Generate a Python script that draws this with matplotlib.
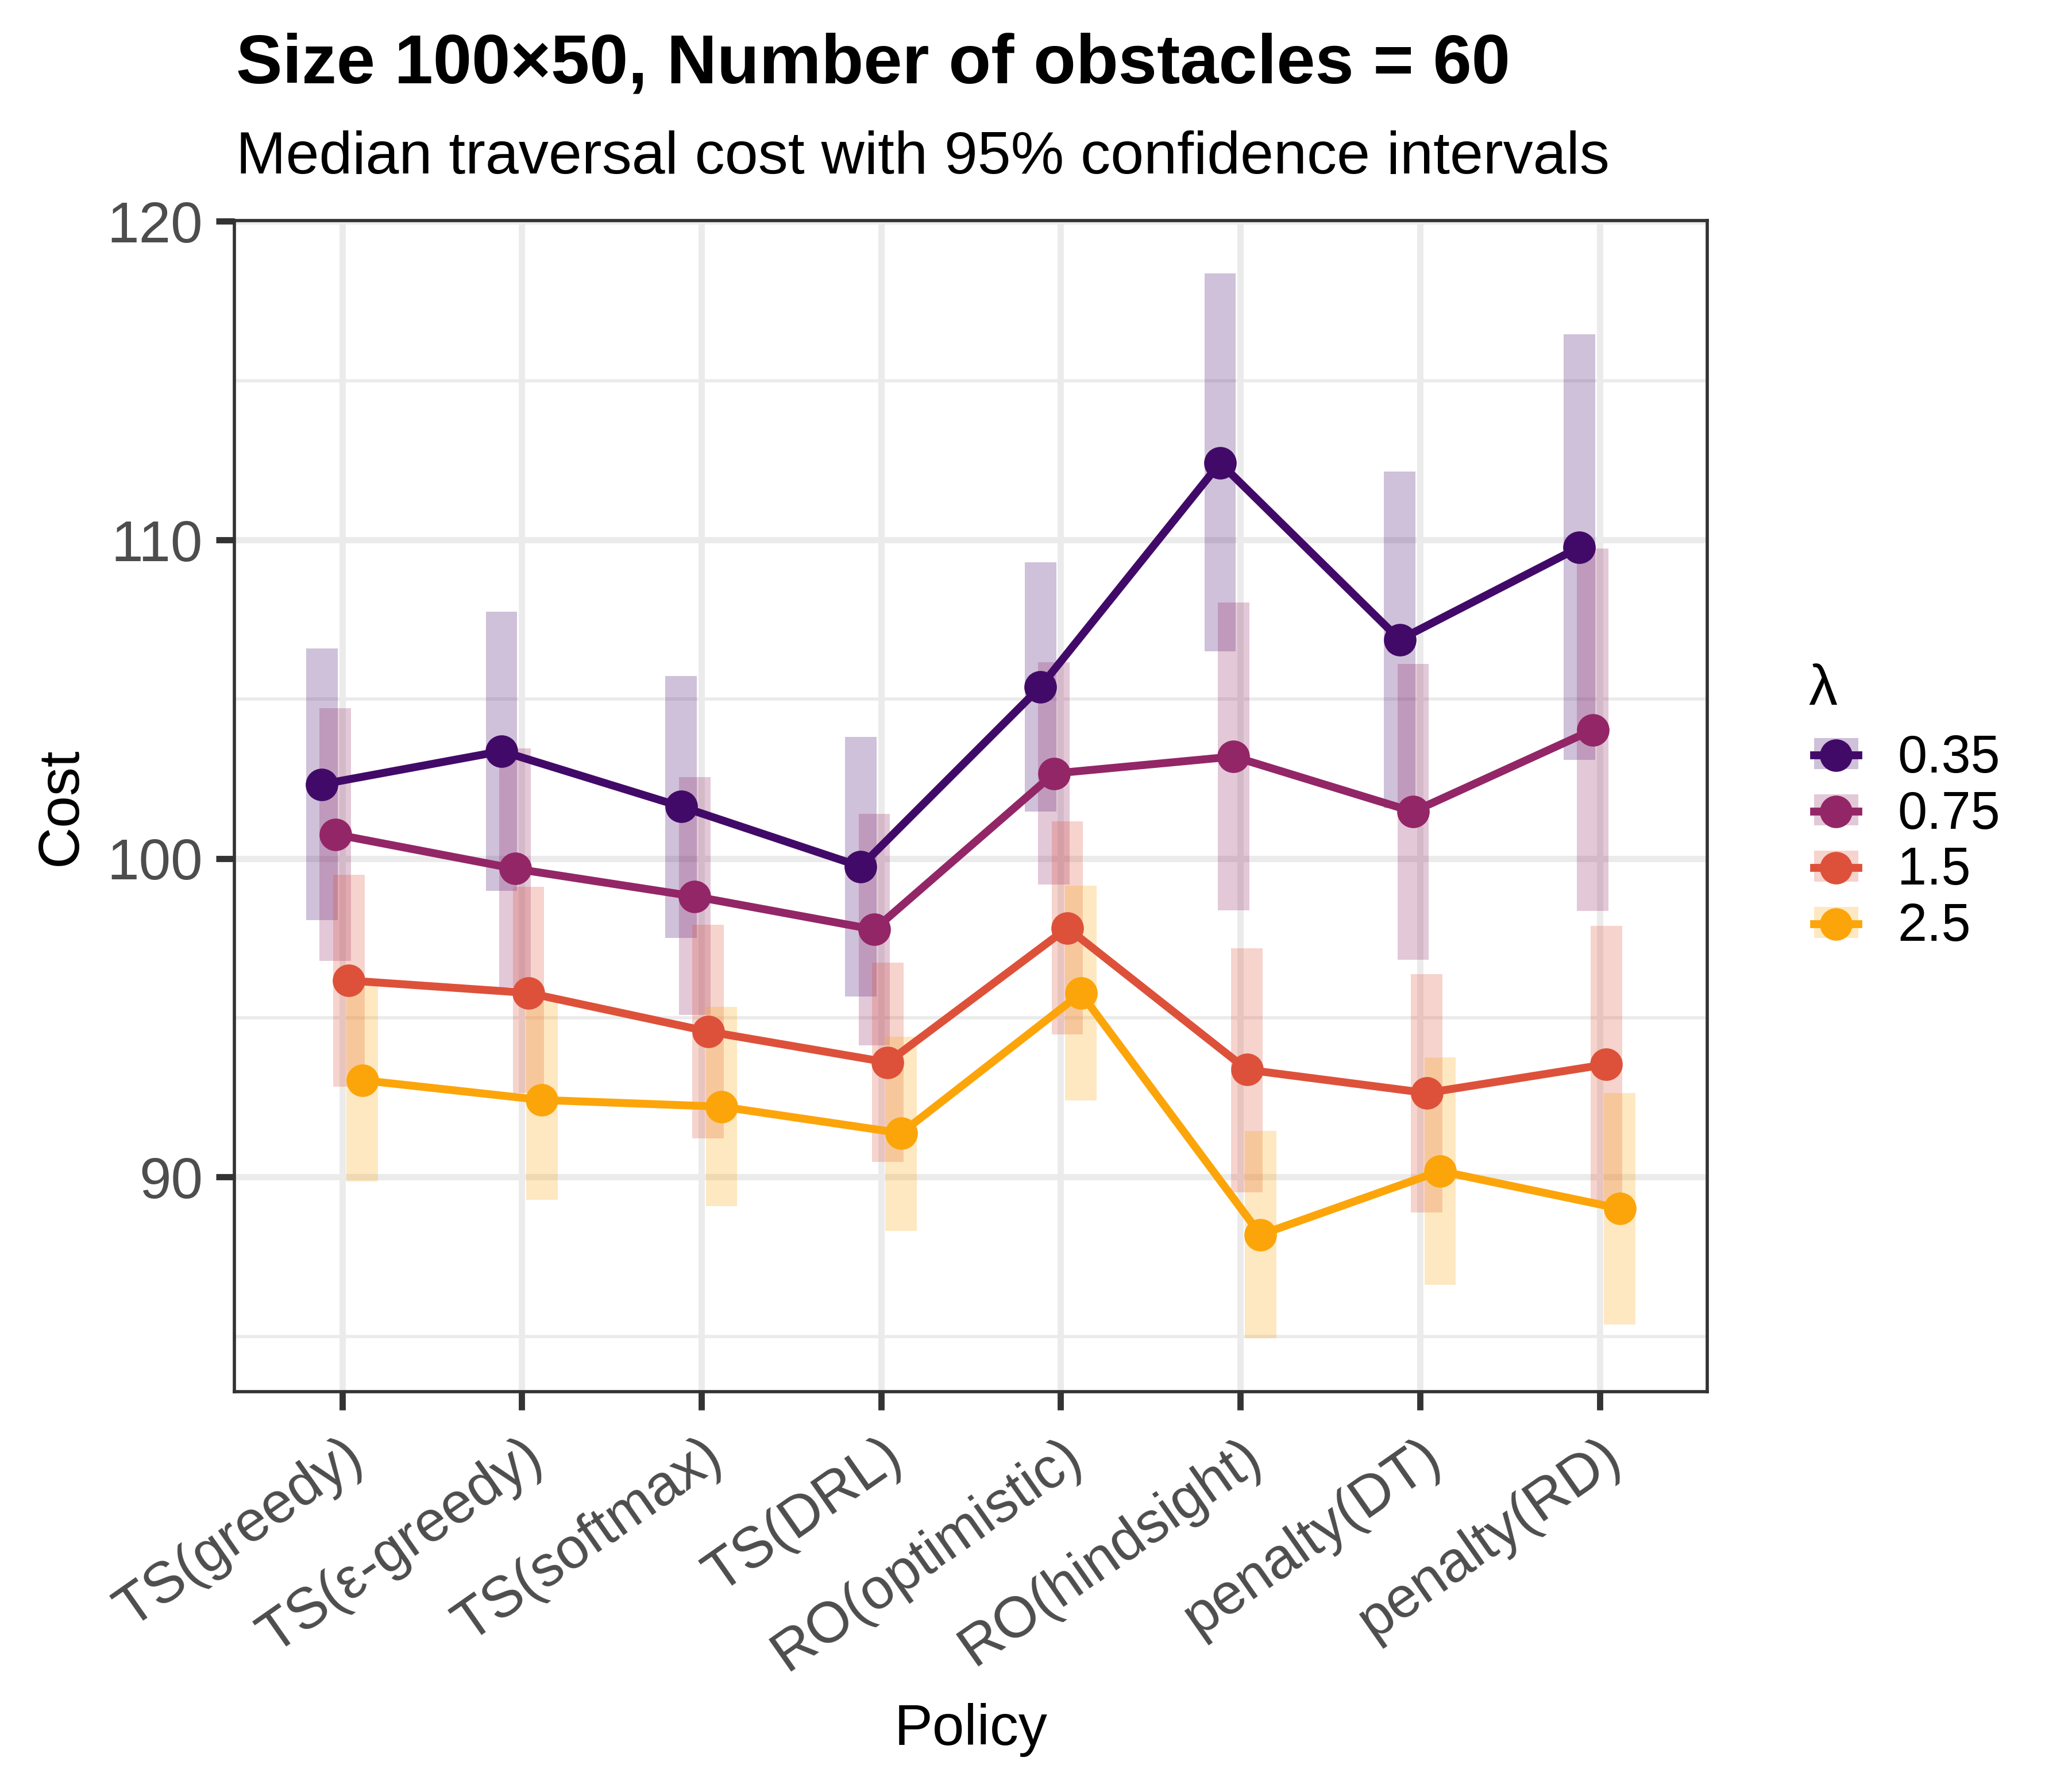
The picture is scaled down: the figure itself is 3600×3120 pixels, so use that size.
"""Median traversal cost per policy, dodged by lambda, with 95% CI bands."""

import matplotlib
matplotlib.use("Agg")
import matplotlib.pyplot as plt
import numpy as np
from matplotlib.lines import Line2D
from matplotlib.patches import Patch
from matplotlib.legend_handler import HandlerTuple
from matplotlib.transforms import ScaledTranslation

plt.rcParams["font.family"] = ["Liberation Sans", "DejaVu Sans"]

policies = ["TS(greedy)", "TS(ε-greedy)", "TS(softmax)", "TS(DRL)",
            "RO(optimistic)", "RO(hindsight)", "penalty(DT)", "penalty(RD)"]
lambdas = ["0.35", "0.75", "1.5", "2.5"]
colors = ["#420A68", "#932667", "#DD513A", "#FCA50A"]

# median cost and CI bounds, one list per lambda
med_035 = [102.33, 103.37, 101.63, 99.75, 105.39, 112.42, 106.87, 109.77]
lo_035 = [98.07, 98.98, 97.50, 95.67, 101.47, 106.50, 101.59, 103.09]
hi_035 = [106.59, 107.75, 105.73, 103.81, 109.30, 118.36, 112.14, 116.45]

med_075 = [100.76, 99.68, 98.81, 97.77, 102.67, 103.20, 101.47, 104.04]
lo_075 = [96.78, 95.96, 95.09, 94.13, 99.18, 98.38, 96.82, 98.35]
hi_075 = [104.72, 103.46, 102.55, 101.41, 106.17, 108.04, 106.11, 109.73]

med_15 = [96.17, 95.78, 94.57, 93.60, 97.82, 93.37, 92.64, 93.54]
lo_15 = [92.84, 92.64, 91.21, 90.47, 94.47, 89.52, 88.88, 89.23]
hi_15 = [99.49, 99.12, 97.92, 96.74, 101.17, 97.18, 96.38, 97.89]

med_25 = [93.04, 92.42, 92.21, 91.38, 95.77, 88.19, 90.19, 89.01]
lo_25 = [89.87, 89.29, 89.08, 88.32, 92.40, 84.94, 86.62, 85.38]
hi_25 = [96.10, 95.52, 95.34, 94.41, 99.15, 91.44, 93.75, 92.63]

meds = [med_035, med_075, med_15, med_25]
los = [lo_035, lo_075, lo_15, lo_25]
his = [hi_035, hi_075, hi_15, hi_25]

DODGE = 0.3
BAR_W = 0.175
LW = 3.3
MS = 13.6
GRID = "#EBEBEB"
DARK = "#333333"

fig = plt.figure(figsize=(12, 10.4), dpi=300)
ax = fig.add_axes([0.1133, 0.2235, 0.8256 - 0.1133, 0.877 - 0.2235])

x = np.arange(len(policies))
n = len(lambdas)
for i, col in enumerate(colors):
    xs = x + (i - (n - 1) / 2) * DODGE / n
    lo = np.array(los[i])
    hi = np.array(his[i])
    ax.bar(xs, hi - lo, bottom=lo, width=BAR_W, color=col, alpha=0.25,
           linewidth=0, zorder=2)
for i, col in enumerate(colors):
    xs = x + (i - (n - 1) / 2) * DODGE / n
    ax.plot(xs, meds[i], color=col, lw=LW, zorder=3)
    ax.plot(xs, meds[i], "o", color=col, ms=MS, mec="none", zorder=4)

all_lo = min(min(v) for v in los)
all_hi = max(max(v) for v in his)
pad = 0.05 * (all_hi - all_lo)
ax.set_ylim(all_lo - pad, all_hi + pad)
ax.set_xlim(-0.6, len(policies) - 0.4)

ax.set_yticks([90, 100, 110, 120])
ax.set_yticks([85, 95, 105, 115], minor=True)
ax.set_xticks(x)
ax.set_xticklabels(policies, rotation=35, ha="right", va="top",
                   rotation_mode="anchor")
shift = ScaledTranslation(40 / 300, 0, fig.dpi_scale_trans)
for lab in ax.get_xticklabels():
    lab.set_transform(lab.get_transform() + shift)

ax.set_axisbelow(True)
ax.grid(True, which="major", color=GRID, lw=2.6)
ax.grid(True, which="minor", axis="y", color=GRID, lw=1.35)
for sp in ax.spines.values():
    sp.set_color(DARK)
    sp.set_linewidth(1.35)
ax.tick_params(axis="both", which="major", length=7.7, width=2.6, color=DARK,
               labelcolor="#4D4D4D", labelsize=24)
ax.tick_params(axis="y", which="major", pad=5.5)
ax.tick_params(axis="x", which="major", pad=8)
ax.tick_params(axis="y", which="minor", length=0)

fig.text(0.1142, 0.9538, "Size 100×50, Number of obstacles = 60",
         fontsize=29, fontweight="bold", va="baseline")
fig.text(0.1142, 0.9032, "Median traversal cost with 95% confidence intervals",
         fontsize=25, va="baseline")
fig.text(0.4694, 0.0263, "Policy", ha="center", va="baseline", fontsize=24)
fig.text(0.0369, 0.550, "Cost", rotation=90, rotation_mode="anchor",
         ha="center", va="baseline", fontsize=24)

# legend: pale CI band behind line + point, like the ggplot key
fig.text(0.8744, 0.6064, "λ", fontsize=24, va="baseline")
handles = [(Patch(facecolor=c, alpha=0.25, linewidth=0),
            Line2D([], [], color=c, lw=LW, marker="o", ms=MS, mec="none"))
           for c in colors]
fig.legend(handles, lambdas, loc="upper left", bbox_to_anchor=(0.8771, 0.5905),
           frameon=False, handler_map={tuple: HandlerTuple(ndivide=1, pad=0)},
           handlelength=0.84, handleheight=0.52, handletextpad=0.75,
           labelspacing=0.13, borderpad=0, borderaxespad=0, fontsize=22)

fig.savefig("out.png", dpi=300, facecolor="white")
